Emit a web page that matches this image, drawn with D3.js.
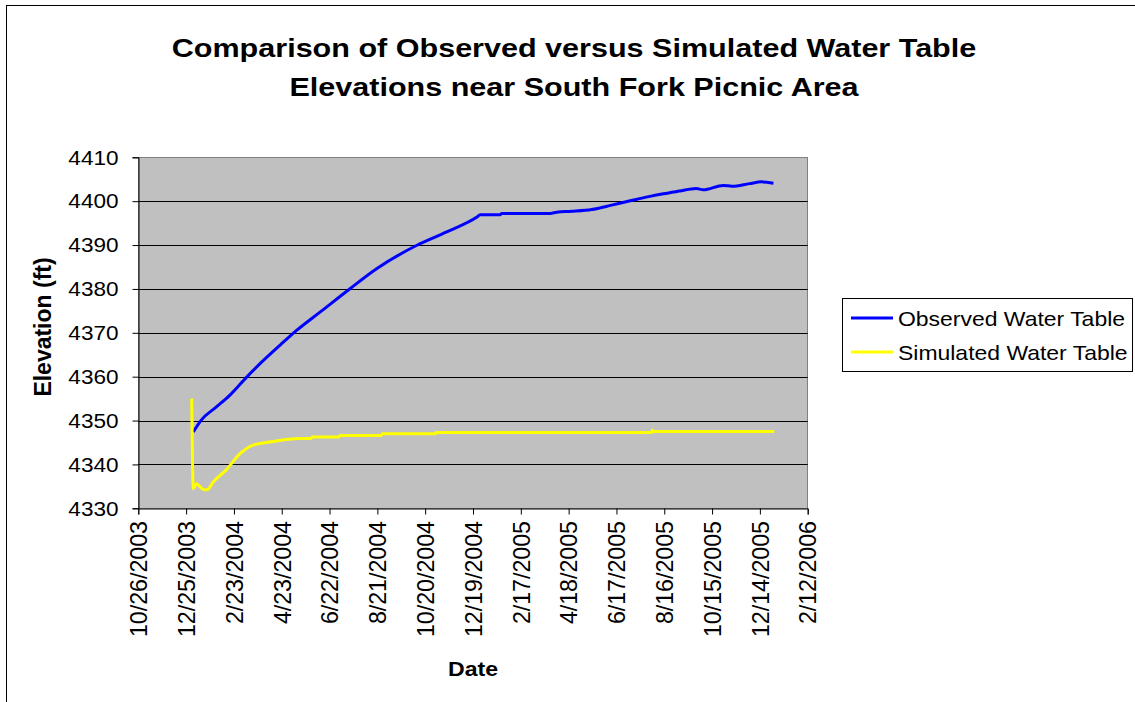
<!DOCTYPE html>
<html>
<head>
<meta charset="utf-8">
<script src="https://cdn.jsdelivr.net/npm/d3@7"></script>
<style>
  html, body { margin: 0; padding: 0; background: #fff; }
  svg { display: block; font-family: "Liberation Sans", Arial, sans-serif; }
</style>
</head>
<body>
<svg id="chart" width="1135" height="702"></svg>
<script>
// ---- Data -------------------------------------------------------------
const titleLines = ["Comparison of Observed versus Simulated Water Table",
                    "Elevations near South Fork Picnic Area"];
const xTitle = "Date";
const yTitle = "Elevation (ft)";
const seriesNames = ["Observed Water Table", "Simulated Water Table"];

const xTickLabels = ["10/26/2003", "12/25/2003", "2/23/2004", "4/23/2004", "6/22/2004",
  "8/21/2004", "10/20/2004", "12/19/2004", "2/17/2005", "4/18/2005", "6/17/2005",
  "8/16/2005", "10/15/2005", "12/14/2005", "2/12/2006"];
const yTickValues = [4330, 4340, 4350, 4360, 4370, 4380, 4390, 4400, 4410];

const observedDates = ["2004-01-03", "2004-01-13", "2004-02-01", "2004-02-18", "2004-03-10",
  "2004-03-31", "2004-04-21", "2004-05-12", "2004-06-10", "2004-07-18", "2004-08-20",
  "2004-10-09", "2004-11-16", "2004-12-24", "2004-12-28", "2005-01-22", "2005-01-24",
  "2005-03-26", "2005-04-03", "2005-04-22", "2005-05-17", "2005-06-11", "2005-06-25",
  "2005-07-12", "2005-07-29", "2005-08-15", "2005-09-04", "2005-09-25", "2005-10-04",
  "2005-10-29", "2005-11-09", "2005-12-01", "2005-12-16", "2005-12-31"];
const observedValues = [4347.4, 4350.1, 4353.1, 4355.8, 4359.9,
  4363.7, 4367.2, 4370.6, 4374.7, 4380.1, 4384.6,
  4389.9, 4393.0, 4396.4, 4396.9, 4396.9, 4397.2,
  4397.2, 4397.5, 4397.7, 4398.1, 4399.1, 4399.7,
  4400.4, 4401.1, 4401.7, 4402.3, 4402.9, 4402.6,
  4403.6, 4403.4, 4404.0, 4404.4, 4404.1];

const simulatedDates = ["2004-01-01", "2004-01-02", "2004-01-03", "2004-01-07", "2004-01-11",
  "2004-01-17", "2004-01-21", "2004-01-28", "2004-02-13", "2004-03-02", "2004-03-18",
  "2004-04-08", "2004-04-29", "2004-05-16", "2004-05-30", "2004-05-31", "2004-07-04",
  "2004-07-05", "2004-08-26", "2004-08-27", "2004-11-02", "2004-11-03", "2005-07-31",
  "2005-08-01", "2005-08-03", "2006-01-01"];
const simulatedValues = [4355.0, 4340.9, 4334.5, 4335.6, 4335.0,
  4334.2, 4334.3, 4336.0, 4338.7, 4342.5, 4344.4,
  4345.1, 4345.7, 4345.9, 4345.9, 4346.25, 4346.25,
  4346.6, 4346.6, 4347.0, 4347.0, 4347.25, 4347.25,
  4347.8, 4347.5, 4347.5];

// ---- Layout -----------------------------------------------------------
const plot = { left: 138.3, right: 807.7, top: 157.3, bottom: 508.3 };
const colors = { observed: "#0000FF", simulated: "#FFFF00" };

const parseISO = d3.utcParse("%Y-%m-%d");
const parseTick = d3.utcParse("%m/%d/%Y");
const xTickDates = xTickLabels.map(parseTick);

const x = d3.scaleUtc()
  .domain([xTickDates[0], xTickDates[xTickDates.length - 1]])
  .range([plot.left, plot.right]);
const y = d3.scaleLinear()
  .domain([yTickValues[0], yTickValues[yTickValues.length - 1]])
  .range([plot.bottom, plot.top]);

const svg = d3.select("#chart");

// text with a slight horizontal stretch, optionally rotated
function stretchedText(g, str, tx, ty, opts) {
  const o = Object.assign({ size: 20, sx: 1.1, rot: 0, anchor: "start", weight: "normal", dy: 0 }, opts);
  return g.append("text")
    .attr("transform", `translate(${tx},${ty}) scale(${o.sx},1) rotate(${o.rot})`)
    .attr("text-anchor", o.anchor)
    .attr("dy", o.dy)
    .attr("font-size", o.size)
    .attr("font-weight", o.weight)
    .attr("fill", "#000")
    .text(str);
}

// outer chart frame
svg.append("rect")
  .attr("x", 6.5).attr("y", 5.5)
  .attr("width", 1140).attr("height", 720)
  .attr("fill", "#fff").attr("stroke", "#000").attr("stroke-width", 1);

// title
titleLines.forEach((t, i) => {
  stretchedText(svg, t, 574, 57 + i * 39, { size: 26, sx: 1.175, anchor: "middle", weight: "bold" });
});

// plot area
svg.append("rect")
  .attr("x", plot.left).attr("y", plot.top)
  .attr("width", plot.right - plot.left).attr("height", plot.bottom - plot.top)
  .attr("fill", "#C0C0C0").attr("stroke", "#808080").attr("stroke-width", 1)
  .attr("shape-rendering", "crispEdges");

// horizontal gridlines
svg.append("g").selectAll("line")
  .data(yTickValues.slice(1, -1))
  .join("line")
  .attr("x1", plot.left).attr("x2", plot.right)
  .attr("y1", d => Math.round(y(d)) + 0.5).attr("y2", d => Math.round(y(d)) + 0.5)
  .attr("stroke", "#000").attr("stroke-width", 1);

// y axis
const yAxis = svg.append("g")
  .attr("transform", `translate(${Math.round(plot.left) + 0.5},0)`)
  .call(d3.axisLeft(y).tickValues(yTickValues).tickSize(6).tickFormat(""));
yAxis.select(".domain").attr("stroke", "#000");
yAxis.selectAll(".tick line").attr("stroke", "#000");
yTickValues.forEach(v => {
  stretchedText(svg, String(v), 118.5, y(v) + 7.3, { size: 20.5, sx: 1.1, anchor: "end" });
});

// x axis
const xAxis = svg.append("g")
  .attr("transform", `translate(0,${Math.round(plot.bottom) + 0.5})`)
  .call(d3.axisBottom(x).tickValues(xTickDates).tickSize(6).tickFormat(""));
xAxis.select(".domain").attr("stroke", "#000");
xAxis.selectAll(".tick line").attr("stroke", "#000");
xTickDates.forEach((d, i) => {
  stretchedText(svg, xTickLabels[i], x(d), 521, { size: 23.2, sx: 1.05, rot: -90, anchor: "end", dy: "0.36em" });
});

// axis titles
stretchedText(svg, xTitle, 473, 676, { size: 21, sx: 1.1, anchor: "middle", weight: "bold" });
stretchedText(svg, yTitle, 42.5, 327, { size: 23, sx: 1.08, rot: -90, anchor: "middle", weight: "bold", dy: "0.36em" });

// series lines
const line = d3.line().x(d => x(d[0])).y(d => y(d[1])).curve(d3.curveMonotoneX);
const observed = observedDates.map((d, i) => [parseISO(d), observedValues[i]]);
const simulated = simulatedDates.map((d, i) => [parseISO(d), simulatedValues[i]]);

svg.append("path").datum(observed)
  .attr("d", line).attr("fill", "none")
  .attr("stroke", colors.observed).attr("stroke-width", 3).attr("stroke-linejoin", "round");
svg.append("path").datum(simulated)
  .attr("d", line).attr("fill", "none")
  .attr("stroke", colors.simulated).attr("stroke-width", 3).attr("stroke-linejoin", "round");

// legend
const lg = svg.append("g");
lg.append("rect")
  .attr("x", 842.5).attr("y", 298.5).attr("width", 290).attr("height", 73)
  .attr("fill", "#fff").attr("stroke", "#000").attr("stroke-width", 1);
[colors.observed, colors.simulated].forEach((c, i) => {
  const ly = 318 + i * 34;
  lg.append("line").attr("x1", 851).attr("x2", 893).attr("y1", ly).attr("y2", ly)
    .attr("stroke", c).attr("stroke-width", 3);
  stretchedText(lg, seriesNames[i], 898, ly + 8, { size: 20.5, sx: 1.12 });
});
</script>
</body>
</html>
